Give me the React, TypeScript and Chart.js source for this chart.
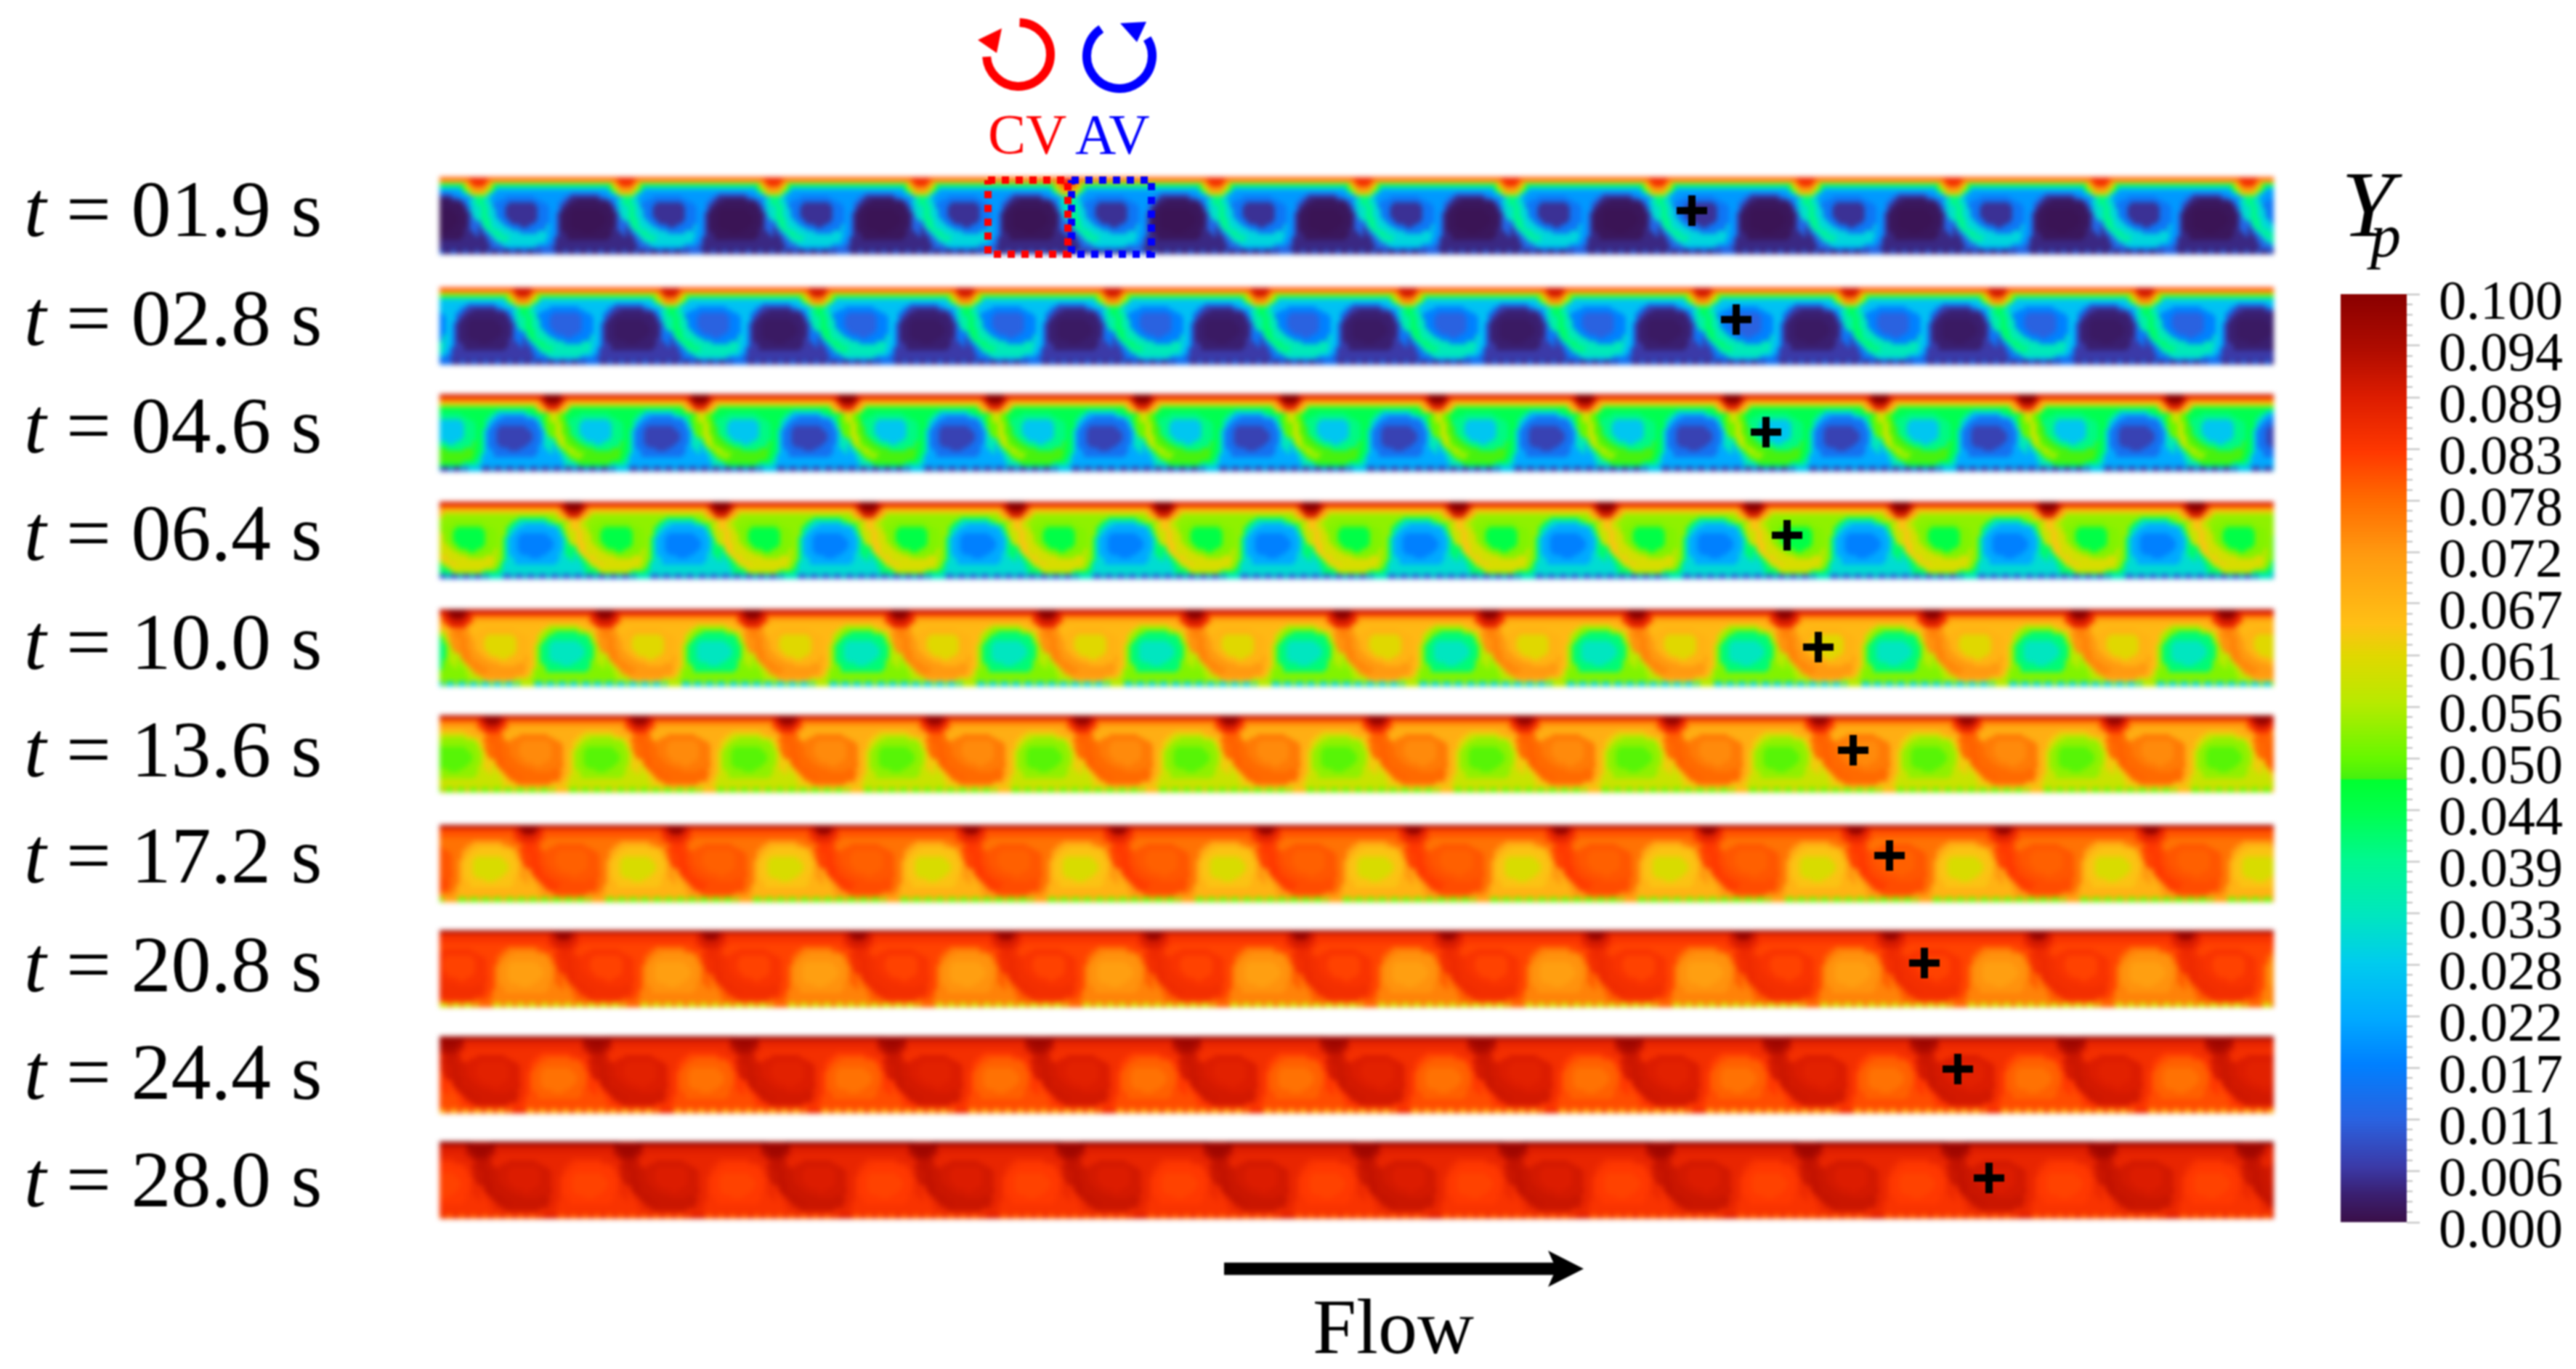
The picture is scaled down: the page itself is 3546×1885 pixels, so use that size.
import React, { useEffect, useRef } from "react";
import { Chart, registerables } from "chart.js";

Chart.register(...registerables);

// ---------- data ----------
const TIME_LABELS = ["= 01.9 s", "= 02.8 s", "= 04.6 s", "= 06.4 s", "= 10.0 s", "= 13.6 s", "= 17.2 s", "= 20.8 s", "= 24.4 s", "= 28.0 s"];
const COLORBAR_LABELS = ["0.000", "0.006", "0.011", "0.017", "0.022", "0.028", "0.033", "0.039", "0.044", "0.050", "0.056", "0.061", "0.067", "0.072", "0.078", "0.083", "0.089", "0.094", "0.100"];

// Tracer position (the + marker), in reference pixels along the page
const PLUS_PAGE_X = [2329, 2390, 2431, 2460, 2503, 2551, 2601, 2649, 2695, 2738];
const PLUS_PAGE_Y = [290, 440, 595, 737, 891, 1033, 1178, 1326, 1472, 1622];

// One vortex pair, as zones. Each row is a list of runs: zone letter + number of columns (50 per row).
const VORTEX_PAIR_ROWS = [
  "R3 w44 R3",
  "R3 r2 h40 r2 R3",
  "R2 r2 s1 j40 s1 r2 R2",
  "r3 s2 j1 e38 j1 s2 r3",
  "r2 s2 j1 e1 g38 e1 j1 s2 r2",
  "s3 e2 g26 m10 g4 e2 s3",
  "t2 i2 g5 b10 g10 m2 n10 m2 g5 i1 t1",
  "t2 i2 g3 b14 g7 m2 n3 o8 n3 m2 g1 i2 t1",
  "t2 i2 a1 b5 c9 b4 g4 m2 n2 o13 n1 m1 g1 i2 t1",
  "i1 t2 i1 a1 b4 c11 b4 g3 m1 n2 o15 n1 m1 g1 i2",
  "i1 t2 i1 a2 b3 c11 b4 g3 m1 n1 o3 p9 o4 n1 m1 i3",
  "i1 t2 i1 a2 b3 c11 b4 g2 m1 n1 o3 p11 o4 n1 m1 i2",
  "i1 t2 i1 a2 b3 c11 b4 g2 m1 n1 o3 p12 o3 n1 m1 i2",
  "i1 t3 i1 a2 b3 c10 b4 g2 m1 n1 o3 p12 o3 n1 m2 i1",
  "m1 i1 t2 i1 a3 b3 c8 b5 g2 m1 n1 o3 p12 o3 n1 m3",
  "m1 i1 t2 i2 a3 b5 c3 b6 a1 g2 m1 n1 o3 p11 o4 n1 m3",
  "n1 m1 i1 t2 i2 a4 b12 a1 g2 m1 n1 o4 p9 o4 n2 m3",
  "n1 m2 i2 t2 i2 a5 b6 a3 g3 m1 n2 o6 p4 o6 n3 m2",
  "n2 m2 i2 t2 i3 a13 g2 m1 n3 o15 n4 m1",
  "n3 m2 i3 t2 a13 g2 m1 n4 o14 n6",
  "n3 m3 i3 a14 g2 m1 n24",
  "n4 m4 a12 g4 m2 n24",
  "n4 m5 g10 m6 n25",
  "d3 f1 d3 f1 d3 f1 d3 f1 d3 f1 d1 f5 d3 f1 d3 f1 d3 f1 d3 f1 d3 f1 d3 f1",
];

// Yp read for each zone, one list per snapshot
const ZONE_KEYS = ["w", "R", "r", "h", "j", "s", "t", "i", "e", "g", "a", "b", "c", "m", "n", "o", "p", "f", "d"];
const YP_T01_9 = [0.08, 0.085, 0.072, 0.065, 0.045, 0.056, 0.04, 0.032, 0.03, 0.02, 0.03, 0.015, 0.005, 0.012, 0.004, 0.0015, 0.001, 0.012, 0.004];
const YP_T02_8 = [0.082, 0.09, 0.075, 0.068, 0.05, 0.058, 0.043, 0.036, 0.034, 0.026, 0.034, 0.017, 0.011, 0.015, 0.006, 0.003, 0.002, 0.014, 0.005];
const YP_T04_6 = [0.09, 0.1, 0.088, 0.08, 0.068, 0.07, 0.058, 0.05, 0.058, 0.044, 0.048, 0.04, 0.027, 0.034, 0.022, 0.014, 0.007, 0.026, 0.006];
const YP_T06_4 = [0.09, 0.1, 0.09, 0.08, 0.068, 0.072, 0.064, 0.058, 0.06, 0.053, 0.06, 0.052, 0.045, 0.042, 0.031, 0.022, 0.017, 0.032, 0.01];
const YP_T10_0 = [0.093, 0.1, 0.09, 0.084, 0.075, 0.085, 0.075, 0.073, 0.069, 0.066, 0.072, 0.067, 0.061, 0.056, 0.052, 0.041, 0.033, 0.056, 0.03];
const YP_T13_6 = [0.093, 0.098, 0.089, 0.08, 0.075, 0.082, 0.079, 0.078, 0.07, 0.068, 0.078, 0.076, 0.074, 0.063, 0.058, 0.053, 0.049, 0.066, 0.05];
const YP_T17_2 = [0.095, 0.098, 0.088, 0.082, 0.08, 0.085, 0.083, 0.082, 0.08, 0.077, 0.081, 0.08, 0.079, 0.072, 0.067, 0.064, 0.06, 0.07, 0.05];
const YP_T20_8 = [0.096, 0.098, 0.09, 0.085, 0.084, 0.088, 0.086, 0.085, 0.084, 0.082, 0.085, 0.084, 0.082, 0.079, 0.075, 0.073, 0.071, 0.078, 0.06];
const YP_T24_4 = [0.098, 0.097, 0.095, 0.088, 0.087, 0.092, 0.091, 0.09, 0.086, 0.085, 0.09, 0.089, 0.088, 0.083, 0.081, 0.079, 0.077, 0.085, 0.07];
const YP_T28_0 = [0.1, 0.097, 0.096, 0.09, 0.089, 0.093, 0.092, 0.091, 0.088, 0.087, 0.091, 0.09, 0.089, 0.086, 0.084, 0.083, 0.082, 0.088, 0.08];
const YP_BY_SNAPSHOT = [YP_T01_9, YP_T02_8, YP_T04_6, YP_T06_4, YP_T10_0, YP_T13_6, YP_T17_2, YP_T20_8, YP_T24_4, YP_T28_0];

const COLORMAP_VALUES = [0, 0.003, 0.006, 0.011, 0.017, 0.022, 0.028, 0.033, 0.039, 0.044, 0.0477, 0.0477, 0.05, 0.056, 0.061, 0.0644, 0.072, 0.078, 0.083, 0.089, 0.094, 0.1];
const COLORMAP_COLORS = ["#3a0f48", "#3a1f70", "#3b3aa8", "#2a62e0", "#0080ff", "#00aaff", "#00ccee", "#00e6c0", "#00f890", "#00ff50", "#00ff30", "#44f010", "#66f800", "#b8ea00", "#e0d800", "#ffc015", "#ff9a10", "#ff6a00", "#ff3800", "#dc1c00", "#b00c00", "#8a0000"];

// ---------- layout (not data) ----------
const W = 3546;
const H = 1885;
const FONT = "'Liberation Serif'";
const STRIP_LEFT = 605;
const STRIP_RIGHT = 3130;
const STRIP_LEN = STRIP_RIGHT - STRIP_LEFT;
const STRIP_TOPS = [245, 397, 544, 692, 840, 986, 1137, 1282, 1428, 1573];
const STRIP_H = 104;
const PERIOD = 203;
const RIDGE_TO_PLUS = 46;
const LABEL_Y = [296, 446, 594, 742, 892, 1040, 1186, 1336, 1484, 1632];
const BAR = { left: 3222, right: 3313, top: 405, bottom: 1683 };

function hexToRgb(h: string) {
  return [parseInt(h.slice(1, 3), 16), parseInt(h.slice(3, 5), 16), parseInt(h.slice(5, 7), 16)];
}
function colorOf(v: number) {
  for (let i = 1; i < COLORMAP_VALUES.length; i++) {
    const a = COLORMAP_VALUES[i - 1];
    const b = COLORMAP_VALUES[i];
    if (v <= b && b > a) {
      const t = Math.max(0, (v - a) / (b - a));
      const ca = hexToRgb(COLORMAP_COLORS[i - 1]);
      const cb = hexToRgb(COLORMAP_COLORS[i]);
      return `rgb(${ca.map((c, k) => Math.round(c + (cb[k] - c) * t)).join(",")})`;
    }
  }
  return COLORMAP_COLORS[COLORMAP_COLORS.length - 1];
}

function buildStripDatasets() {
  const rows = VORTEX_PAIR_ROWS.map((r) => r.split(" ").map((t) => [t[0], Number(t.slice(1))] as [string, number]));
  const rowH = STRIP_H / rows.length;
  return YP_BY_SNAPSHOT.map((yp, s) => {
    const ridge = PLUS_PAGE_X[s] - RIDGE_TO_PLUS - STRIP_LEFT;
    const data: any[] = [];
    const colors: string[] = [];
    const first = Math.floor(-ridge / PERIOD) - 1;
    const last = Math.ceil((STRIP_LEN - ridge) / PERIOD);
    for (let k = first; k <= last; k++) {
      rows.forEach((runs, r) => {
        let col = 0;
        for (const [zone, n] of runs) {
          const x0 = Math.max(0, Math.round(ridge + (k + col / 50) * PERIOD));
          const x1 = Math.min(STRIP_LEN, Math.round(ridge + (k + (col + n) / 50) * PERIOD));
          col += n;
          if (x1 <= x0) continue;
          data.push({ x: [x0, x1], y: STRIP_TOPS[s] + (r + 0.5) * rowH });
          colors.push(colorOf(yp[ZONE_KEYS.indexOf(zone)]));
        }
      });
    }
    return {
      data,
      backgroundColor: colors,
      borderWidth: 0,
      barThickness: Math.ceil(rowH) + 1,
      grouped: false,
    };
  });
}

const marksPlugin = {
  id: "marks",
  afterDatasetsDraw(chart: any) {
    const { ctx, scales } = chart;
    const px = (x: number) => scales.x.getPixelForValue(x - STRIP_LEFT);
    const py = (y: number) => scales.y.getPixelForValue(y);
    ctx.save();
    const poly = (pts: number[][], color: string) => {
      ctx.fillStyle = color;
      ctx.beginPath();
      pts.forEach(([x, y], i) => (i ? ctx.lineTo(px(x), py(y)) : ctx.moveTo(px(x), py(y))));
      ctx.closePath();
      ctx.fill();
    };
    const deg = Math.PI / 180;
    ctx.lineWidth = 12;
    ctx.strokeStyle = "#ff0000";
    ctx.beginPath();
    ctx.arc(px(1402), py(75), 44, -88 * deg, 176 * deg, false);
    ctx.stroke();
    poly([[1346, 55], [1379, 39], [1372, 73]], "#ff0000");
    ctx.strokeStyle = "#0000ff";
    ctx.beginPath();
    ctx.arc(px(1541), py(77), 45, -124 * deg, -32 * deg, true);
    ctx.stroke();
    poly([[1542, 32], [1578, 30], [1565, 58]], "#0000ff");
    poly([[2180, 1747], [2131, 1722], [2142, 1747], [2131, 1772]], "#000");

    ctx.textBaseline = "alphabetic";
    ctx.textAlign = "left";
    ctx.font = `78px ${FONT}`;
    ctx.fillStyle = "#ff0000";
    ctx.fillText("CV", px(1360), py(211));
    ctx.fillStyle = "#0000ff";
    ctx.fillText("AV", px(1480), py(211));
    ctx.fillStyle = "#000";
    ctx.font = `108px ${FONT}`;
    ctx.fillText("Flow", px(1807), py(1863));

    ctx.textBaseline = "middle";
    ctx.font = `italic 110px ${FONT}`;
    LABEL_Y.forEach((y) => ctx.fillText("t", 33, py(y)));
    ctx.restore();
  },
};

const colorbarPlugin = {
  id: "colorbarExtras",
  afterDatasetsDraw(chart: any) {
    const { ctx, scales } = chart;
    const y = scales.y;
    ctx.save();
    ctx.strokeStyle = "#bdbdbd";
    ctx.lineWidth = 2;
    const step = 0.1 / 18 / 5;
    for (let i = 0; i <= 90; i++) {
      if (i % 5 === 0) continue;
      const p = y.getPixelForValue(i * step);
      ctx.beginPath();
      ctx.moveTo(BAR.right, p);
      ctx.lineTo(BAR.right + 8, p);
      ctx.stroke();
    }
    ctx.fillStyle = "#000";
    ctx.textAlign = "left";
    ctx.textBaseline = "alphabetic";
    ctx.font = `italic 130px ${FONT}`;
    ctx.fillText("Y", 3223, 325);
    ctx.font = `italic 84px ${FONT}`;
    ctx.fillText("p", 3263, 353);
    ctx.restore();
  },
};

export default function App() {
  const heatRef = useRef<HTMLCanvasElement>(null);
  const marksRef = useRef<HTMLCanvasElement>(null);
  const barRef = useRef<HTMLCanvasElement>(null);

  useEffect(() => {
    const base = { responsive: false, animation: false as const, devicePixelRatio: 1, plugins: { legend: { display: false }, tooltip: { enabled: false } } };

    const heat = new Chart(heatRef.current!, {
      type: "bar",
      data: { datasets: buildStripDatasets() as any },
      options: {
        ...base,
        indexAxis: "y",
        layout: { autoPadding: false, padding: { left: STRIP_LEFT, right: W - STRIP_RIGHT, top: 0, bottom: 0 } },
        scales: {
          x: { type: "linear", display: false, min: 0, max: STRIP_LEN, offset: false },
          y: { type: "linear", display: false, min: 0, max: H, reverse: true, offset: false },
        },
      } as any,
    });

    const boxRed = [[1360, 248], [1470, 248], [1470, 350], [1360, 350], [1360, 248]];
    const boxBlue = [[1475, 248], [1585, 248], [1585, 350], [1475, 350], [1475, 248]];
    const toXY = (pts: number[][]) => pts.map(([x, y]) => ({ x: x - STRIP_LEFT, y }));
    const marks = new Chart(marksRef.current!, {
      type: "scatter",
      data: {
        datasets: [
          { type: "line", data: toXY(boxRed), borderColor: "#ff0000", borderWidth: 10, borderDash: [10, 9], pointRadius: 0, clip: false, tension: 0 },
          { type: "line", data: toXY(boxBlue), borderColor: "#0000ff", borderWidth: 10, borderDash: [10, 9], pointRadius: 0, clip: false, tension: 0 },
          { type: "line", data: toXY([[1685, 1747], [2145, 1747]]), borderColor: "#000", borderWidth: 17, pointRadius: 0, clip: false },
          {
            data: PLUS_PAGE_X.map((x, i) => ({ x: x - STRIP_LEFT, y: PLUS_PAGE_Y[i] })),
            pointStyle: "cross",
            pointRadius: 21,
            pointBorderWidth: 10,
            pointBorderColor: "#000",
            borderColor: "#000",
            borderWidth: 10,
            clip: false,
          },
        ] as any,
      },
      options: {
        ...base,
        layout: { autoPadding: false, padding: { left: 91, right: W - STRIP_RIGHT, top: 0, bottom: 0 } },
        scales: {
          x: { type: "linear", display: false, min: 0, max: STRIP_LEN },
          y: {
            type: "linear",
            min: 0,
            max: H,
            reverse: true,
            grid: { display: false, drawTicks: false },
            border: { display: false },
            afterFit: (s: any) => { s.width = STRIP_LEFT - 91; s.paddingTop = 0; s.paddingBottom = 0; },
            afterBuildTicks: (s: any) => { s.ticks = LABEL_Y.map((value) => ({ value })); },
            ticks: {
              autoSkip: false,
              crossAlign: "far",
              padding: 0,
              color: "#000",
              font: { family: FONT, size: 110 },
              callback: (_v: any, i: number) => TIME_LABELS[i],
            },
          },
        },
      } as any,
      plugins: [marksPlugin],
    });

    const bar = new Chart(barRef.current!, {
      type: "bar",
      data: {
        labels: ["Yp"],
        datasets: [
          {
            data: [[0, 0.1]],
            barPercentage: 1,
            categoryPercentage: 1,
            borderWidth: 0,
            backgroundColor: (c: any) => {
              const { ctx, chartArea } = c.chart;
              if (!chartArea) return "#000";
              const g = ctx.createLinearGradient(0, chartArea.bottom, 0, chartArea.top);
              COLORMAP_VALUES.forEach((v, i) => g.addColorStop(v / 0.1, COLORMAP_COLORS[i]));
              return g;
            },
          },
        ] as any,
      },
      options: {
        ...base,
        layout: { autoPadding: false, padding: { left: BAR.left, right: 0, top: BAR.top, bottom: H - BAR.bottom } },
        scales: {
          x: { display: false },
          y: {
            position: "right",
            min: 0,
            max: 0.1,
            border: { display: false },
            grid: { drawOnChartArea: false, tickLength: 18, tickColor: "#bdbdbd", tickWidth: 2 },
            afterFit: (s: any) => { s.width = W - BAR.right; s.paddingTop = 0; s.paddingBottom = 0; },
            afterBuildTicks: (s: any) => { s.ticks = COLORBAR_LABELS.map((l, i) => ({ value: (0.1 * i) / 18 })); },
            ticks: {
              autoSkip: false,
              padding: 26,
              labelOffset: 14,
              color: "#000",
              font: { family: FONT, size: 76 },
              callback: (_v: any, i: number) => COLORBAR_LABELS[i],
            },
          },
        },
      } as any,
      plugins: [colorbarPlugin],
    });

    return () => {
      heat.destroy();
      marks.destroy();
      bar.destroy();
    };
  }, []);

  const layer: React.CSSProperties = { position: "absolute", left: 0, top: 0, width: W, height: H };
  return (
    <div style={{ position: "absolute", left: 0, top: 0, width: W, height: H, background: "#fff", overflow: "hidden" }}>
      <canvas ref={heatRef} width={W} height={H} style={{ ...layer, filter: "blur(3.5px)" }} />
      <canvas ref={barRef} width={W} height={H} style={{ ...layer, filter: "blur(0.8px)" }} />
      <canvas ref={marksRef} width={W} height={H} style={{ ...layer, filter: "blur(0.8px)" }} />
    </div>
  );
}
